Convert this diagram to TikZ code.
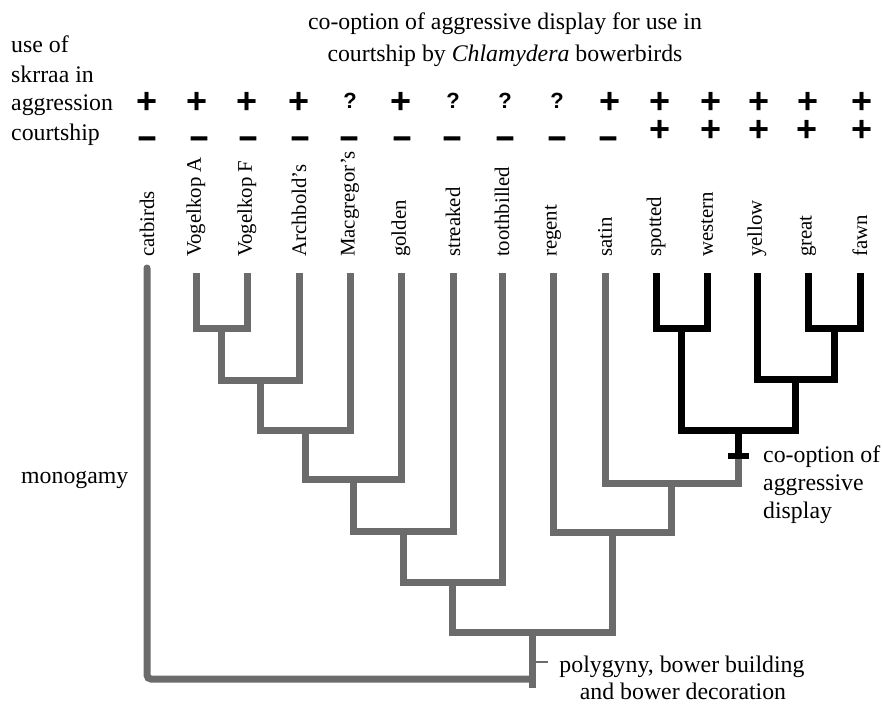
\documentclass[tikz,border=0pt]{standalone}
\usepackage{fontspec}
\setmainfont{Liberation Serif}
\newfontfamily\symfont{Liberation Sans}
\newfontfamily\minusfont{Liberation Sans}[UprightFont={* Bold}, FakeBold=3]
\begin{document}
\begin{tikzpicture}[x=1pt,y=-1pt,
  grayline/.style={line width=7pt, draw=black!58, line join=miter},
  blackline/.style={line width=7pt, draw=black, line join=miter},
  thintick/.style={line width=2.5pt, draw=black!58},
  lab/.style={font=\fontsize{23.8}{28}\selectfont, inner sep=0pt, anchor=base west},
  clab/.style={lab, anchor=base},
  sp/.style={font=\fontsize{20.8}{24}\selectfont, inner sep=0pt, rotate=90, anchor=west},
  plusmark/.style={font={\symfont\bfseries\fontsize{36}{40}\selectfont}, inner sep=0pt, anchor=base, text height=21pt, text depth=0pt},
  minusmark/.style={font={\minusfont\fontsize{32}{36}\selectfont}, inner sep=0pt, anchor=base, text height=12pt, text depth=0pt},
  qmark/.style={font={\symfont\bfseries\fontsize{22}{24}\selectfont}, inner sep=0pt, anchor=base, text height=16pt, text depth=0pt}
]
\useasboundingbox (0,0) rectangle (882,705);

% titles and labels
\node[clab] (title1) at (505,29) {co-option of aggressive display for use in};
\node[clab] (title2) at (505,61) {courtship by \textit{Chlamydera} bowerbirds};
\node[lab] (l1) at (11,52) {use of};
\node[lab] (l2) at (11,82) {skrraa in};
\node[lab] (l3) at (11,110) {aggression};
\node[lab] (l4) at (11,140) {courtship};
\node[lab] (mono) at (21,483) {monogamy};
\node[lab] (co1) at (763,462) {co-option of};
\node[lab] (co2) at (763,490) {aggressive};
\node[lab] (co3) at (763,518) {display};
\node[clab] (poly1) at (682,672) {polygyny, bower building};
\node[clab] (poly2) at (683,699) {and bower decoration};

% row 1: aggression
\node[plusmark] (a1) at (147,113) {+};
\node[plusmark] (a2) at (197,113) {+};
\node[plusmark] (a3) at (247,113) {+};
\node[plusmark] (a4) at (299,113) {+};
\node[qmark] (a5) at (350,108) {?};
\node[plusmark] (a6) at (401,113) {+};
\node[qmark] (a7) at (453,108) {?};
\node[qmark] (a8) at (505,108) {?};
\node[qmark] (a9) at (557,108) {?};
\node[plusmark] (a10) at (610,113) {+};
\node[plusmark] (a11) at (660,113) {+};
\node[plusmark] (a12) at (711,113) {+};
\node[plusmark] (a13) at (759,113) {+};
\node[plusmark] (a14) at (808,113) {+};
\node[plusmark] (a15) at (862,113) {+};
% row 2: courtship
\node[minusmark] (c1) at (147,147) {–};
\node[minusmark] (c2) at (199,147) {–};
\node[minusmark] (c3) at (248,147) {–};
\node[minusmark] (c4) at (300,147) {–};
\node[minusmark] (c5) at (349,147) {–};
\node[minusmark] (c6) at (402,147) {–};
\node[minusmark] (c7) at (452,147) {–};
\node[minusmark] (c8) at (505,147) {–};
\node[minusmark] (c9) at (557,147) {–};
\node[minusmark] (c10) at (608,147) {–};
\node[plusmark] (c11) at (660,141) {+};
\node[plusmark] (c12) at (711,141) {+};
\node[plusmark] (c13) at (759,141) {+};
\node[plusmark] (c14) at (807,141) {+};
\node[plusmark] (c15) at (862,141) {+};

% species labels
\node[sp] (scat) at (147,257) {catbirds};
\node[sp] (sVA) at (196,257) {Vogelkop A};
\node[sp] (sVF) at (247,257) {Vogelkop F};
\node[sp] (sArch) at (299,257) {Archbold's};
\node[sp] (sMac) at (350,257) {Macgregor's};
\node[sp] (sGold) at (401,257) {golden};
\node[sp] (sStr) at (453,257) {streaked};
\node[sp] (sTooth) at (502,257) {toothbilled};
\node[sp] (sReg) at (553,257) {regent};
\node[sp] (sSat) at (605,257) {satin};
\node[sp] (sSpot) at (656,257) {spotted};
\node[sp] (sWest) at (707,257) {western};
\node[sp] (sYel) at (757,257) {yellow};
\node[sp] (sGreat) at (808,257) {great};
\node[sp] (sFawn) at (860,257) {fawn};

% tips
\coordinate (tcat) at (147,268);
\coordinate (tVA) at (196,273);
\coordinate (tVF) at (247,273);
\coordinate (tArch) at (299,273);
\coordinate (tMac) at (350,273);
\coordinate (tGold) at (401,273);
\coordinate (tStr) at (453,273);
\coordinate (tTooth) at (502,273);
\coordinate (tReg) at (553,273);
\coordinate (tSat) at (605,273);
\coordinate (tSpot) at (656,273);
\coordinate (tWest) at (707,273);
\coordinate (tYel) at (757,273);
\coordinate (tGreat) at (808,273);
\coordinate (tFawn) at (860,273);

% internal nodes
\coordinate (n1) at (221.5,328);
\coordinate (n2) at (260.25,380);
\coordinate (n3) at (305,430);
\coordinate (n4) at (353,479);
\coordinate (n5) at (403,531);
\coordinate (n6) at (452.5,582);
\coordinate (b1) at (681.5,328);
\coordinate (b2) at (834,328);
\coordinate (b3) at (795.5,379);
\coordinate (b4) at (738.5,430);
\coordinate (bt) at (738.5,456);
\coordinate (btl) at (728,456);
\coordinate (btr) at (749,456);
\coordinate (g1) at (671.75,483);
\coordinate (g2) at (612.4,532);
\coordinate (g3) at (532.5,632);
\coordinate (rootb) at (532.5,688);
\coordinate (catc) at (147,679);
\coordinate (catr) at (532.5,679);
\coordinate (tk1) at (532.5,662);
\coordinate (tk2) at (548,662);

% gray tree
\draw[grayline] (tVA) |- (n1) -| (tVF);
\draw[grayline] (n1) |- (n2) -| (tArch);
\draw[grayline] (n2) |- (n3) -| (tMac);
\draw[grayline] (n3) |- (n4) -| (tGold);
\draw[grayline] (n4) |- (n5) -| (tStr);
\draw[grayline] (n5) |- (n6) -| (tTooth);
\draw[grayline] (tSat) |- (g1) -| (bt);
\draw[grayline] (tReg) |- (g2) -| (g1);
\draw[grayline] (n6) |- (g3) -| (g2);
\draw[grayline] (g3) -- (rootb);
\draw[grayline, line cap=round, rounded corners=4pt] (tcat) -- (catc) -- (catr);
\draw[thintick] (tk1) -- (tk2);

% black tree
\draw[blackline] (tSpot) |- (b1) -| (tWest);
\draw[blackline] (tGreat) |- (b2) -| (tFawn);
\draw[blackline] (tYel) |- (b3) -| (b2);
\draw[blackline] (b1) |- (b4) -| (b3);
\draw[blackline] (b4) -- (bt);
\draw[line width=6pt] (btl) -- (btr);
\end{tikzpicture}
\end{document}
